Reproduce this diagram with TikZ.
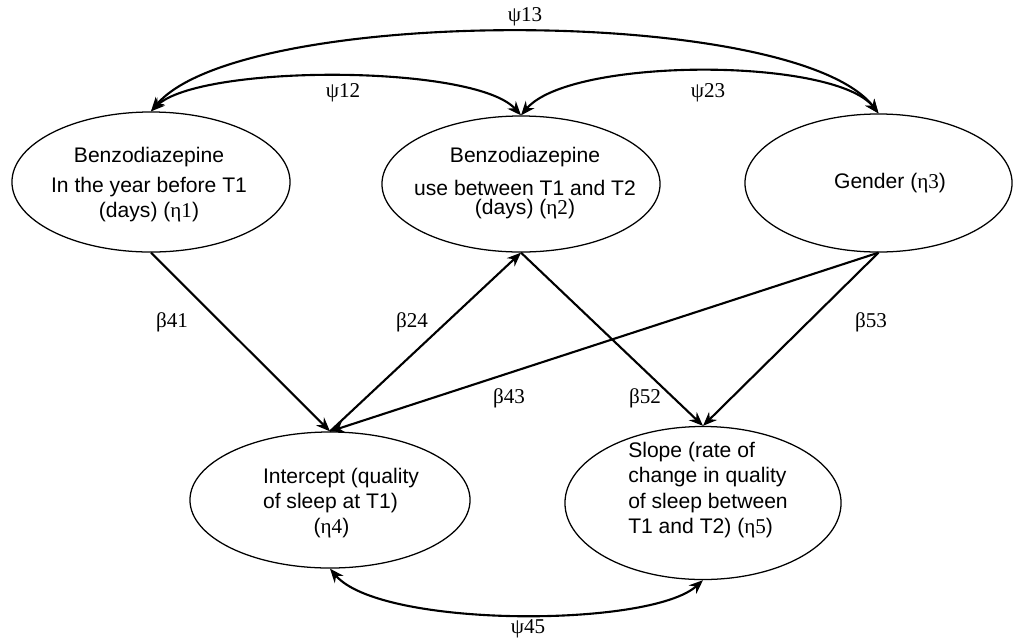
\documentclass[tikz,border=0pt]{standalone}
\usepackage{fontspec}
\setmainfont{Liberation Serif}
\setsansfont{Liberation Sans}
\usetikzlibrary{shapes.geometric,arrows.meta}

\tikzset{
    latent/.style={draw, ellipse, line width=0.9pt, inner sep=0pt},
    vartext/.style={font=\sffamily\fontsize{15}{18}\selectfont, align=center},
    coef/.style={font=\rmfamily\fontsize{15}{16}\selectfont},
    reg/.style={line width=1.5pt, -{Stealth[length=10pt,width=8pt]}},
    cov/.style={line width=1.5pt, {Stealth[length=10pt,width=8pt]}-{Stealth[length=10pt,width=8pt]}}
}

\begin{document}
\begin{tikzpicture}[x=0.025cm,y=-0.025cm]

    \useasboundingbox (0,0) rectangle (1013,640);

    % latentní proměnné
    \node[latent, minimum width=6.95cm, minimum height=3.5cm] (eta1) at (151,182) {};
    \node[vartext] (t1) at (149,185) {Benzodiazepine\\[3pt]In the year before T1\\(days) ({\rmfamily η1})};

    \node[latent, minimum width=6.95cm, minimum height=3.4cm] (eta2) at (521,184) {};
    \node[vartext] (t2) at (525,183) {Benzodiazepine\\[5.5pt]use between T1 and T2\\[-4pt](days) ({\rmfamily η2})};

    \node[latent, minimum width=6.675cm, minimum height=3.45cm] (eta3) at (878.5,183) {};
    \node[vartext] (t3) at (890,183) {Gender ({\rmfamily η3})};

    \node[latent, minimum width=7cm, minimum height=3.4cm] (eta4) at (330,500) {};
    \node[vartext, align=left] (t4) at (341,503) {Intercept (quality\\of sleep at T1)\\\hspace*{2.4em}({\rmfamily η4})};

    \node[latent, minimum width=6.9cm, minimum height=3.825cm] (eta5) at (703,503) {};
    \node[vartext, align=left] (t5) at (708,490) {Slope (rate of\\change in quality\\of sleep between\\T1 and T2) ({\rmfamily η5})};

    % kovariance
    \draw[cov] (eta1.north) .. controls (240,5) and (795,5) .. (eta3.north);
    \draw[cov] (eta1.north) .. controls (200,64) and (475,64) .. (eta2.north);
    \draw[cov] (eta2.north) .. controls (570,57) and (834,57) .. (eta3.north);
    \draw[cov] (eta4.south) .. controls (380,628) and (650,628) .. (eta5.south);

    % regresní cesty
    \draw[reg] (eta1.south) -- (eta4.north);
    \draw[reg] (eta4.north) -- (eta2.south);
    \draw[reg] (eta3.south) -- (eta4.north);
    \draw[reg] (eta2.south) -- (eta5.north);
    \draw[reg] (eta3.south) -- (eta5.north);

    % popisky
    \node[coef] (psi13) at (525,17) {ψ13};
    \node[coef] (psi12) at (343,93) {ψ12};
    \node[coef] (psi23) at (708,93) {ψ23};
    \node[coef] (psi45) at (528,629) {ψ45};
    \node[coef] (b41) at (172,322) {β41};
    \node[coef] (b24) at (412,322) {β24};
    \node[coef] (b53) at (871,322) {β53};
    \node[coef] (b43) at (509,398) {β43};
    \node[coef] (b52) at (645,398) {β52};

\end{tikzpicture}
\end{document}
